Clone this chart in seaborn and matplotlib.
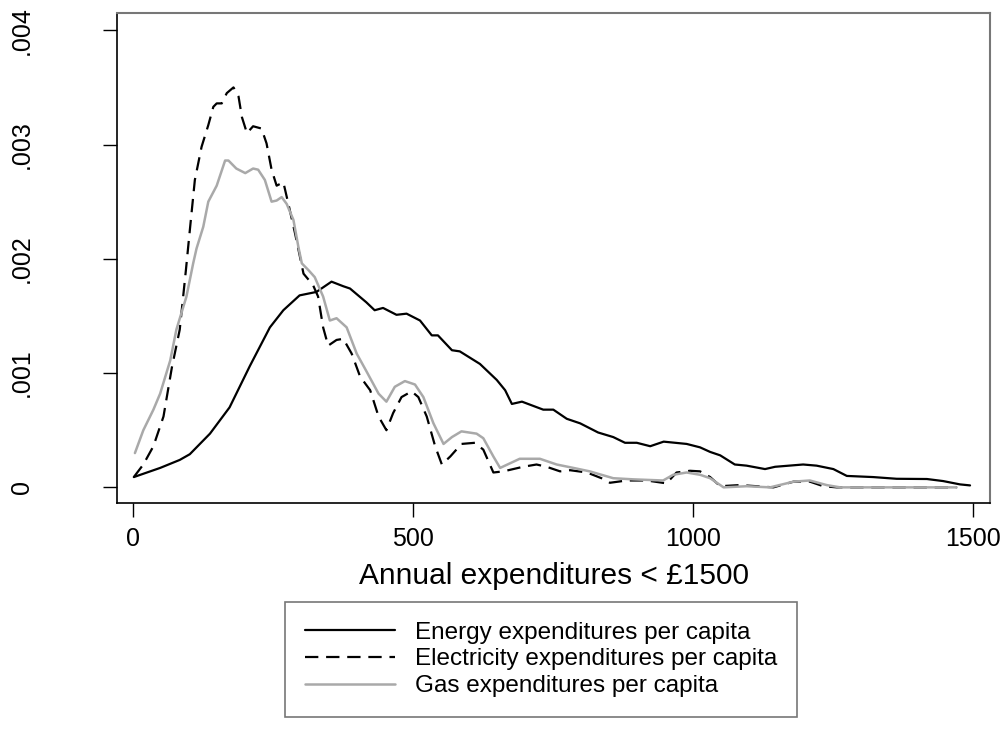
import matplotlib
matplotlib.use("Agg")
import matplotlib.pyplot as plt
import seaborn as sns

# kernel density readings, y in thousandths
energy_x = [1, 48, 83, 101, 137, 172, 208, 244, 268, 297,
            327, 354, 375, 387, 416, 431, 446, 470, 488, 512,
            533, 544, 569, 583, 619, 649, 664, 676, 694, 732,
            750, 774, 798, 830, 857, 878, 899, 923, 947, 988,
            1012, 1030, 1048, 1074, 1095, 1128, 1146, 1196, 1220, 1250,
            1274, 1321, 1363, 1417, 1446, 1476, 1494]
energy_y = [0.09, 0.17, 0.24, 0.29, 0.47, 0.70, 1.06, 1.40, 1.55, 1.68,
            1.71, 1.80, 1.76, 1.74, 1.62, 1.55, 1.57, 1.51, 1.52, 1.46,
            1.33, 1.33, 1.20, 1.19, 1.08, 0.94, 0.85, 0.73, 0.75, 0.68,
            0.68, 0.60, 0.56, 0.48, 0.44, 0.39, 0.39, 0.36, 0.40, 0.38,
            0.35, 0.31, 0.28, 0.20, 0.19, 0.16, 0.18, 0.20, 0.19, 0.16,
            0.10, 0.09, 0.075, 0.073, 0.055, 0.026, 0.017]

elec_x = [1, 18, 36, 54, 69, 83, 94, 100, 110, 122,
          134, 143, 149, 158, 167, 179, 188, 194, 203, 214,
          229, 238, 247, 256, 268, 277, 289, 304, 321, 330,
          339, 348, 363, 375, 390, 405, 423, 438, 452, 464,
          479, 497, 509, 524, 539, 551, 566, 586, 610, 625,
          643, 661, 696, 720, 738, 762, 780, 810, 836, 851,
          881, 917, 952, 970, 994, 1012, 1030, 1048, 1083, 1143,
          1179, 1208, 1232, 1256, 1333, 1470]
elec_y = [0.09, 0.20, 0.36, 0.62, 1.05, 1.38, 1.90, 2.20, 2.69, 2.98,
          3.17, 3.33, 3.36, 3.36, 3.45, 3.50, 3.42, 3.24, 3.10, 3.16,
          3.14, 3.01, 2.78, 2.64, 2.67, 2.48, 2.22, 1.87, 1.77, 1.67,
          1.40, 1.24, 1.29, 1.30, 1.17, 0.97, 0.85, 0.62, 0.50, 0.65,
          0.79, 0.84, 0.79, 0.62, 0.36, 0.20, 0.27, 0.38, 0.39, 0.33,
          0.13, 0.14, 0.18, 0.20, 0.18, 0.14, 0.15, 0.13, 0.08, 0.04,
          0.06, 0.06, 0.035, 0.13, 0.145, 0.14, 0.09, 0.01, 0.02, 0.0,
          0.05, 0.05, 0.01, 0.0, 0.0, 0.0]

gas_x = [3, 18, 36, 48, 66, 77, 95, 107, 113, 125,
         134, 149, 164, 170, 184, 200, 214, 223, 235, 247,
         256, 265, 274, 286, 295, 301, 313, 324, 339, 351,
         363, 381, 399, 417, 438, 452, 467, 485, 503, 518,
         536, 554, 569, 586, 613, 625, 643, 655, 690, 726,
         756, 786, 815, 857, 893, 946, 964, 988, 1012, 1030,
         1054, 1095, 1137, 1179, 1208, 1238, 1262, 1470]
gas_y = [0.30, 0.50, 0.68, 0.82, 1.11, 1.38, 1.67, 1.96, 2.09, 2.28,
         2.50, 2.64, 2.86, 2.86, 2.79, 2.75, 2.79, 2.78, 2.69, 2.50,
         2.51, 2.54, 2.48, 2.34, 2.10, 1.96, 1.90, 1.84, 1.67, 1.46,
         1.48, 1.40, 1.17, 1.01, 0.82, 0.75, 0.88, 0.93, 0.90, 0.79,
         0.56, 0.38, 0.44, 0.49, 0.47, 0.43, 0.27, 0.17, 0.25, 0.25,
         0.20, 0.17, 0.14, 0.08, 0.07, 0.06, 0.11, 0.13, 0.11, 0.08,
         0.0, 0.01, 0.0, 0.05, 0.06, 0.02, 0.0, 0.0]

series_labels = ["Energy expenditures per capita",
                 "Electricity expenditures per capita",
                 "Gas expenditures per capita"]
x_ticks = [0, 500, 1000, 1500]
y_ticks = [0, 1, 2, 3, 4]
y_tick_labels = ["0", ".001", ".002", ".003", ".004"]

sns.set_style("ticks")
plt.rcParams['font.family'] = ['Liberation Sans', 'DejaVu Sans']
plt.rcParams['text.color'] = 'black'
plt.rcParams['axes.labelcolor'] = 'black'
plt.rcParams['xtick.color'] = 'black'
plt.rcParams['ytick.color'] = 'black'

fig = plt.figure(figsize=(10.06, 7.29), dpi=100)
ax = fig.add_axes([0.1163, 0.31, 0.868, 0.672])

sns.lineplot(x=energy_x, y=energy_y, ax=ax, color="black", lw=1.6,
             estimator=None, label=series_labels[0])
sns.lineplot(x=elec_x, y=elec_y, ax=ax, color="black", lw=1.6,
             linestyle=(0, (6, 3.5)), estimator=None, label=series_labels[1])
sns.lineplot(x=gas_x, y=gas_y, ax=ax, color="#a9a9a9", lw=1.8,
             estimator=None, label=series_labels[2])

ax.set_xlim(-29, 1530)
ax.set_ylim(-0.137, 4.15)
ax.set_xticks(x_ticks)
ax.set_yticks(y_ticks)
ax.set_yticklabels(y_tick_labels, rotation=90, va="center")
ax.tick_params(axis="y", length=10, width=1, pad=50, labelsize=18)
ax.tick_params(axis="x", length=10, width=1, pad=7, labelsize=18)

for s in ["left", "bottom"]:
    ax.spines[s].set_color("black")
    ax.spines[s].set_linewidth(1.2)
for s in ["top", "right"]:
    ax.spines[s].set_color("#777777")
    ax.spines[s].set_linewidth(1.5)

ax.set_xlabel("Annual expenditures < £1500", fontsize=21.5, labelpad=8)
ax.set_ylabel("")

leg = ax.legend(loc="upper center", bbox_to_anchor=(0.538, 0.174),
                bbox_transform=fig.transFigure, frameon=True, fancybox=False,
                edgecolor="#555555", fontsize=17.5, handlelength=3.7,
                handletextpad=0.85, labelspacing=0.2, borderpad=0.8,
                borderaxespad=0)
leg.get_frame().set_linewidth(1.2)

fig.savefig("out.png", dpi=100)
